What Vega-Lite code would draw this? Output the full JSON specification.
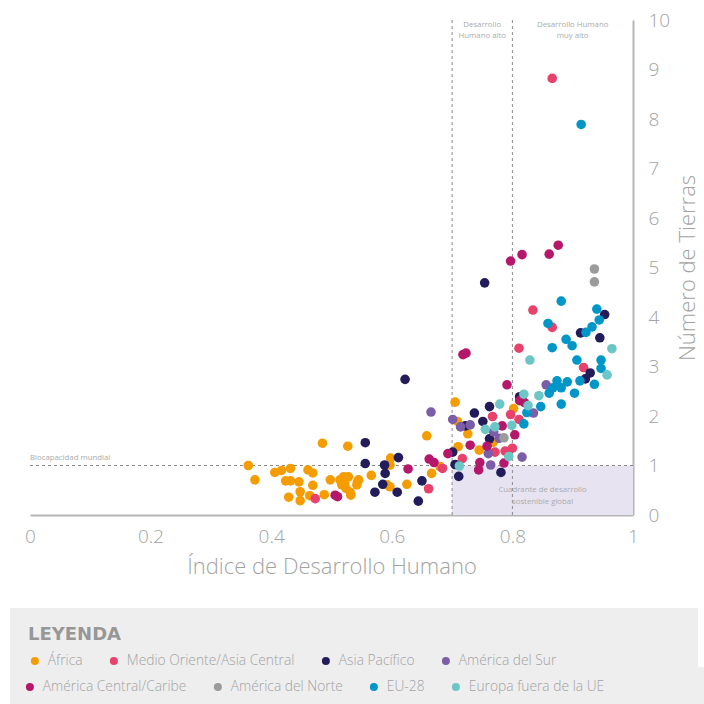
{
  "$schema": "https://vega.github.io/schema/vega-lite/v6.json",
  "width": 603,
  "height": 495,
  "autosize": {"type": "none"},
  "padding": {"left": 30, "top": 20, "right": 71, "bottom": 189},
  "background": "white",
  "config": {
    "view": {"stroke": null},
    "font": "Open Sans",
    "legend": {
      "orient": "none",
      "direction": "horizontal",
      "fillColor": "#eeeeee",
      "labelFont": "Open Sans",
      "labelFontSize": 13.8,
      "labelFontWeight": 300,
      "labelColor": "#a3a3a3",
      "labelLimit": 300,
      "labelOffset": 6,
      "columnPadding": 24,
      "symbolType": "circle",
      "symbolSize": 64,
      "symbolStrokeWidth": 0,
      "titleLimit": 900,
      "titleFont": "DejaVu Sans"
    }
  },
  "datasets": {
    "paises": [
      {"region": "África", "idh": 0.362, "tierras": 1.00},
      {"region": "África", "idh": 0.373, "tierras": 0.71},
      {"region": "África", "idh": 0.406, "tierras": 0.86},
      {"region": "África", "idh": 0.417, "tierras": 0.90},
      {"region": "África", "idh": 0.432, "tierras": 0.94},
      {"region": "África", "idh": 0.461, "tierras": 0.91},
      {"region": "África", "idh": 0.469, "tierras": 0.85},
      {"region": "África", "idh": 0.424, "tierras": 0.69},
      {"region": "África", "idh": 0.432, "tierras": 0.69},
      {"region": "África", "idh": 0.446, "tierras": 0.67},
      {"region": "África", "idh": 0.469, "tierras": 0.60},
      {"region": "África", "idh": 0.448, "tierras": 0.47},
      {"region": "África", "idh": 0.429, "tierras": 0.36},
      {"region": "África", "idh": 0.448, "tierras": 0.29},
      {"region": "África", "idh": 0.464, "tierras": 0.39},
      {"region": "África", "idh": 0.488, "tierras": 0.41},
      {"region": "África", "idh": 0.498, "tierras": 0.71},
      {"region": "África", "idh": 0.520, "tierras": 0.77},
      {"region": "África", "idh": 0.528, "tierras": 0.77},
      {"region": "África", "idh": 0.514, "tierras": 0.71},
      {"region": "África", "idh": 0.517, "tierras": 0.61},
      {"region": "África", "idh": 0.522, "tierras": 0.64},
      {"region": "África", "idh": 0.524, "tierras": 0.54},
      {"region": "África", "idh": 0.531, "tierras": 0.46},
      {"region": "África", "idh": 0.532, "tierras": 0.40},
      {"region": "África", "idh": 0.543, "tierras": 0.67},
      {"region": "África", "idh": 0.545, "tierras": 0.71},
      {"region": "África", "idh": 0.542, "tierras": 0.61},
      {"region": "África", "idh": 0.485, "tierras": 1.45},
      {"region": "África", "idh": 0.527, "tierras": 1.39},
      {"region": "África", "idh": 0.566, "tierras": 0.80},
      {"region": "África", "idh": 0.598, "tierras": 1.15},
      {"region": "África", "idh": 0.597, "tierras": 1.01},
      {"region": "África", "idh": 0.597, "tierras": 0.57},
      {"region": "África", "idh": 0.592, "tierras": 0.61},
      {"region": "África", "idh": 0.625, "tierras": 0.62},
      {"region": "África", "idh": 0.658, "tierras": 1.60},
      {"region": "África", "idh": 0.666, "tierras": 0.84},
      {"region": "África", "idh": 0.680, "tierras": 0.98},
      {"region": "África", "idh": 0.705, "tierras": 2.28},
      {"region": "África", "idh": 0.709, "tierras": 1.89},
      {"region": "África", "idh": 0.710, "tierras": 1.38},
      {"region": "África", "idh": 0.726, "tierras": 1.64},
      {"region": "África", "idh": 0.745, "tierras": 1.31},
      {"region": "África", "idh": 0.768, "tierras": 1.47},
      {"region": "África", "idh": 0.802, "tierras": 2.15},
      {"region": "Medio Oriente/Asia Central", "idh": 0.866, "tierras": 8.82},
      {"region": "Medio Oriente/Asia Central", "idh": 0.834, "tierras": 4.14},
      {"region": "Medio Oriente/Asia Central", "idh": 0.866, "tierras": 3.79},
      {"region": "Medio Oriente/Asia Central", "idh": 0.811, "tierras": 3.37},
      {"region": "Medio Oriente/Asia Central", "idh": 0.918, "tierras": 2.98},
      {"region": "Medio Oriente/Asia Central", "idh": 0.797, "tierras": 2.03},
      {"region": "Medio Oriente/Asia Central", "idh": 0.767, "tierras": 1.99},
      {"region": "Medio Oriente/Asia Central", "idh": 0.811, "tierras": 1.93},
      {"region": "Medio Oriente/Asia Central", "idh": 0.800, "tierras": 1.35},
      {"region": "Medio Oriente/Asia Central", "idh": 0.788, "tierras": 1.29},
      {"region": "Medio Oriente/Asia Central", "idh": 0.771, "tierras": 1.27},
      {"region": "Medio Oriente/Asia Central", "idh": 0.717, "tierras": 1.14},
      {"region": "Medio Oriente/Asia Central", "idh": 0.684, "tierras": 0.94},
      {"region": "Medio Oriente/Asia Central", "idh": 0.661, "tierras": 0.53},
      {"region": "Medio Oriente/Asia Central", "idh": 0.473, "tierras": 0.33},
      {"region": "Asia Pacífico", "idh": 0.754, "tierras": 4.69},
      {"region": "Asia Pacífico", "idh": 0.953, "tierras": 4.05},
      {"region": "Asia Pacífico", "idh": 0.913, "tierras": 3.68},
      {"region": "Asia Pacífico", "idh": 0.945, "tierras": 3.58},
      {"region": "Asia Pacífico", "idh": 0.929, "tierras": 2.87},
      {"region": "Asia Pacífico", "idh": 0.921, "tierras": 2.75},
      {"region": "Asia Pacífico", "idh": 0.622, "tierras": 2.74},
      {"region": "Asia Pacífico", "idh": 0.812, "tierras": 2.39},
      {"region": "Asia Pacífico", "idh": 0.762, "tierras": 2.19},
      {"region": "Asia Pacífico", "idh": 0.737, "tierras": 2.06},
      {"region": "Asia Pacífico", "idh": 0.751, "tierras": 1.89},
      {"region": "Asia Pacífico", "idh": 0.722, "tierras": 1.80},
      {"region": "Asia Pacífico", "idh": 0.762, "tierras": 1.54},
      {"region": "Asia Pacífico", "idh": 0.556, "tierras": 1.46},
      {"region": "Asia Pacífico", "idh": 0.611, "tierras": 1.16},
      {"region": "Asia Pacífico", "idh": 0.701, "tierras": 1.27},
      {"region": "Asia Pacífico", "idh": 0.588, "tierras": 1.01},
      {"region": "Asia Pacífico", "idh": 0.556, "tierras": 1.04},
      {"region": "Asia Pacífico", "idh": 0.705, "tierras": 1.02},
      {"region": "Asia Pacífico", "idh": 0.781, "tierras": 0.86},
      {"region": "Asia Pacífico", "idh": 0.589, "tierras": 0.84},
      {"region": "Asia Pacífico", "idh": 0.711, "tierras": 0.78},
      {"region": "Asia Pacífico", "idh": 0.585, "tierras": 0.62},
      {"region": "Asia Pacífico", "idh": 0.650, "tierras": 0.69},
      {"region": "Asia Pacífico", "idh": 0.572, "tierras": 0.46},
      {"region": "Asia Pacífico", "idh": 0.609, "tierras": 0.46},
      {"region": "Asia Pacífico", "idh": 0.644, "tierras": 0.28},
      {"region": "América del Sur", "idh": 0.856, "tierras": 2.63},
      {"region": "América del Sur", "idh": 0.665, "tierras": 2.08},
      {"region": "América del Sur", "idh": 0.835, "tierras": 2.06},
      {"region": "América del Sur", "idh": 0.701, "tierras": 1.93},
      {"region": "América del Sur", "idh": 0.730, "tierras": 1.82},
      {"region": "América del Sur", "idh": 0.714, "tierras": 1.78},
      {"region": "América del Sur", "idh": 0.769, "tierras": 1.68},
      {"region": "América del Sur", "idh": 0.778, "tierras": 1.55},
      {"region": "América del Sur", "idh": 0.760, "tierras": 1.24},
      {"region": "América del Sur", "idh": 0.764, "tierras": 1.01},
      {"region": "América del Sur", "idh": 0.816, "tierras": 1.17},
      {"region": "América Central/Caribe", "idh": 0.876, "tierras": 5.45},
      {"region": "América Central/Caribe", "idh": 0.797, "tierras": 5.13},
      {"region": "América Central/Caribe", "idh": 0.816, "tierras": 5.26},
      {"region": "América Central/Caribe", "idh": 0.861, "tierras": 5.27},
      {"region": "América Central/Caribe", "idh": 0.718, "tierras": 3.24},
      {"region": "América Central/Caribe", "idh": 0.723, "tierras": 3.27},
      {"region": "América Central/Caribe", "idh": 0.791, "tierras": 2.63},
      {"region": "América Central/Caribe", "idh": 0.812, "tierras": 2.31},
      {"region": "América Central/Caribe", "idh": 0.820, "tierras": 2.27},
      {"region": "América Central/Caribe", "idh": 0.783, "tierras": 1.80},
      {"region": "América Central/Caribe", "idh": 0.804, "tierras": 1.62},
      {"region": "América Central/Caribe", "idh": 0.730, "tierras": 1.41},
      {"region": "América Central/Caribe", "idh": 0.758, "tierras": 1.39},
      {"region": "América Central/Caribe", "idh": 0.693, "tierras": 1.24},
      {"region": "América Central/Caribe", "idh": 0.662, "tierras": 1.13},
      {"region": "América Central/Caribe", "idh": 0.670, "tierras": 1.06},
      {"region": "América Central/Caribe", "idh": 0.746, "tierras": 1.06},
      {"region": "América Central/Caribe", "idh": 0.744, "tierras": 0.91},
      {"region": "América Central/Caribe", "idh": 0.786, "tierras": 1.05},
      {"region": "América Central/Caribe", "idh": 0.627, "tierras": 0.93},
      {"region": "América Central/Caribe", "idh": 0.506, "tierras": 0.40},
      {"region": "América Central/Caribe", "idh": 0.510, "tierras": 0.37},
      {"region": "América del Norte", "idh": 0.936, "tierras": 4.97},
      {"region": "América del Norte", "idh": 0.936, "tierras": 4.71},
      {"region": "América del Norte", "idh": 0.786, "tierras": 1.56},
      {"region": "EU-28", "idh": 0.914, "tierras": 7.89},
      {"region": "EU-28", "idh": 0.881, "tierras": 4.32},
      {"region": "EU-28", "idh": 0.940, "tierras": 4.16},
      {"region": "EU-28", "idh": 0.944, "tierras": 3.94},
      {"region": "EU-28", "idh": 0.859, "tierras": 3.87},
      {"region": "EU-28", "idh": 0.932, "tierras": 3.80},
      {"region": "EU-28", "idh": 0.922, "tierras": 3.69},
      {"region": "EU-28", "idh": 0.889, "tierras": 3.55},
      {"region": "EU-28", "idh": 0.899, "tierras": 3.42},
      {"region": "EU-28", "idh": 0.866, "tierras": 3.38},
      {"region": "EU-28", "idh": 0.907, "tierras": 3.13},
      {"region": "EU-28", "idh": 0.947, "tierras": 3.13},
      {"region": "EU-28", "idh": 0.947, "tierras": 2.96},
      {"region": "EU-28", "idh": 0.912, "tierras": 2.71},
      {"region": "EU-28", "idh": 0.874, "tierras": 2.71},
      {"region": "EU-28", "idh": 0.891, "tierras": 2.69},
      {"region": "EU-28", "idh": 0.936, "tierras": 2.64},
      {"region": "EU-28", "idh": 0.881, "tierras": 2.57},
      {"region": "EU-28", "idh": 0.867, "tierras": 2.57},
      {"region": "EU-28", "idh": 0.861, "tierras": 2.46},
      {"region": "EU-28", "idh": 0.903, "tierras": 2.46},
      {"region": "EU-28", "idh": 0.847, "tierras": 2.19},
      {"region": "EU-28", "idh": 0.881, "tierras": 2.24},
      {"region": "EU-28", "idh": 0.824, "tierras": 2.07},
      {"region": "EU-28", "idh": 0.819, "tierras": 1.84},
      {"region": "Europa fuera de la UE", "idh": 0.965, "tierras": 3.36},
      {"region": "Europa fuera de la UE", "idh": 0.829, "tierras": 3.13},
      {"region": "Europa fuera de la UE", "idh": 0.957, "tierras": 2.83},
      {"region": "Europa fuera de la UE", "idh": 0.844, "tierras": 2.41},
      {"region": "Europa fuera de la UE", "idh": 0.819, "tierras": 2.44},
      {"region": "Europa fuera de la UE", "idh": 0.826, "tierras": 2.21},
      {"region": "Europa fuera de la UE", "idh": 0.779, "tierras": 2.24},
      {"region": "Europa fuera de la UE", "idh": 0.799, "tierras": 1.81},
      {"region": "Europa fuera de la UE", "idh": 0.755, "tierras": 1.73},
      {"region": "Europa fuera de la UE", "idh": 0.771, "tierras": 1.78},
      {"region": "Europa fuera de la UE", "idh": 0.794, "tierras": 1.18},
      {"region": "Europa fuera de la UE", "idh": 0.712, "tierras": 0.99}
    ],
    "umbrales": [
      {"umbral": 0.7},
      {"umbral": 0.8}
    ]
  },
  "layer": [
    {
      "data": {"values": [{}]},
      "mark": {"type": "rect", "color": "#e7e3f1"},
      "encoding": {
        "x": {"datum": 0.7, "type": "quantitative"},
        "x2": {"datum": 1},
        "y": {"datum": 0, "type": "quantitative"},
        "y2": {"datum": 1}
      }
    },
    {
      "data": {"name": "umbrales"},
      "mark": {"type": "rule", "color": "#8a8a8a", "strokeDash": [3, 3], "strokeWidth": 1},
      "encoding": {
        "x": {"field": "umbral", "type": "quantitative", "title": "Índice de Desarrollo Humano"},
        "y": {"datum": 0, "type": "quantitative"},
        "y2": {"datum": 10}
      }
    },
    {
      "data": {"values": [{}]},
      "mark": {"type": "rule", "color": "#8a8a8a", "strokeDash": [3, 3], "strokeWidth": 1},
      "encoding": {
        "y": {"datum": 1, "type": "quantitative"},
        "x": {"datum": 0, "type": "quantitative"},
        "x2": {"datum": 1}
      }
    },
    {
      "data": {"values": [{}]},
      "mark": {"type": "text", "text": ["Desarrollo", "Humano alto"], "align": "center", "baseline": "top", "fontSize": 7.8, "lineHeight": 11, "color": "#ababab", "dy": 1},
      "encoding": {
        "x": {"datum": 0.75, "type": "quantitative"},
        "y": {"datum": 10, "type": "quantitative"}
      }
    },
    {
      "data": {"values": [{}]},
      "mark": {"type": "text", "text": ["Desarrollo Humano", "muy alto"], "align": "center", "baseline": "top", "fontSize": 7.8, "lineHeight": 11, "color": "#ababab", "dy": 1},
      "encoding": {
        "x": {"datum": 0.9, "type": "quantitative"},
        "y": {"datum": 10, "type": "quantitative"}
      }
    },
    {
      "data": {"values": [{}]},
      "mark": {"type": "text", "text": "Biocapacidad mundial", "align": "left", "baseline": "bottom", "fontSize": 7.8, "color": "#ababab", "dy": -4},
      "encoding": {
        "x": {"datum": 0, "type": "quantitative"},
        "y": {"datum": 1, "type": "quantitative"}
      }
    },
    {
      "data": {"values": [{}]},
      "mark": {"type": "text", "text": ["Cuadrante de desarrollo", "sostenible global"], "align": "center", "baseline": "middle", "fontSize": 7.8, "lineHeight": 12, "color": "#ababab"},
      "encoding": {
        "x": {"datum": 0.85, "type": "quantitative"},
        "y": {"datum": 0.5, "type": "quantitative"}
      }
    },
    {
      "data": {"name": "paises"},
      "transform": [
        {"filter": {"field": "region", "oneOf": ["África", "Medio Oriente/Asia Central", "Asia Pacífico", "América del Sur"]}}
      ],
      "mark": {"type": "circle", "size": 92, "opacity": 1},
      "encoding": {
        "x": {
          "field": "idh",
          "type": "quantitative",
          "title": "Índice de Desarrollo Humano",
          "scale": {"domain": [0, 1], "nice": false, "zero": false},
          "axis": {
            "values": [0, 0.2, 0.4, 0.6, 0.8, 1],
            "format": "~g",
            "grid": false,
            "ticks": false,
            "domainColor": "#b5b5b5",
            "domainWidth": 2,
            "labelFontSize": 19,
            "labelFontWeight": 300,
            "labelColor": "#a3a3a3",
            "labelPadding": 12,
            "labelFlush": false,
            "titleFontSize": 22,
            "titleFontWeight": 300,
            "titleColor": "#a3a3a3",
            "titlePadding": 10
          }
        },
        "y": {
          "field": "tierras",
          "type": "quantitative",
          "title": "Número de Tierras",
          "scale": {"domain": [0, 10], "nice": false},
          "axis": {
            "orient": "right",
            "values": [0, 1, 2, 3, 4, 5, 6, 7, 8, 9, 10],
            "grid": false,
            "ticks": false,
            "domainColor": "#b5b5b5",
            "domainWidth": 2,
            "labelFontSize": 19,
            "labelFontWeight": 300,
            "labelColor": "#a3a3a3",
            "labelPadding": 15,
            "labelFlush": false,
            "titleFontSize": 22,
            "titleFontWeight": 300,
            "titleColor": "#a3a3a3",
            "titleAngle": 270,
            "titleBaseline": "top",
            "titlePadding": 8
          }
        },
        "color": {
          "field": "region",
          "type": "nominal",
          "scale": {
            "domain": ["África", "Medio Oriente/Asia Central", "Asia Pacífico", "América del Sur"],
            "range": ["#f59c00", "#e8416b", "#221c5a", "#7b5ea7"]
          },
          "legend": {
            "title": "LEYENDA\u2003\u2003\u2003\u2003\u2003\u2003\u2003\u2003\u2003\u2003\u2003\u2003\u2003\u2003\u2003\u2003\u2003\u2003\u2003\u2003\u2003\u2003\u2003\u2003\u2003\u2003\u2003\u2003\u2003\u2003\u2003\u200b",
            "legendX": -20,
            "legendY": 588,
            "padding": 18,
            "titleFontSize": 18,
            "titleFontWeight": "bold",
            "titleColor": "#979797",
            "titlePadding": 10
          }
        }
      }
    },
    {
      "data": {"name": "paises"},
      "transform": [
        {"filter": {"field": "region", "oneOf": ["América Central/Caribe", "América del Norte", "EU-28", "Europa fuera de la UE"]}}
      ],
      "mark": {"type": "circle", "size": 92, "opacity": 1},
      "encoding": {
        "x": {"field": "idh", "type": "quantitative", "title": "Índice de Desarrollo Humano"},
        "y": {"field": "tierras", "type": "quantitative", "title": "Número de Tierras"},
        "fill": {
          "field": "region",
          "type": "nominal",
          "scale": {
            "domain": ["América Central/Caribe", "América del Norte", "EU-28", "Europa fuera de la UE"],
            "range": ["#b5176b", "#9b9b9b", "#0096c8", "#6cc6c6"]
          },
          "legend": {
            "title": "\u200b\u2003\u2003\u2003\u2003\u2003\u2003\u2002\u200b",
            "titleOrient": "right",
            "titleFontSize": 13,
            "titlePadding": 5,
            "legendX": -20,
            "legendY": 647,
            "padding": 13
          }
        }
      }
    }
  ]
}
